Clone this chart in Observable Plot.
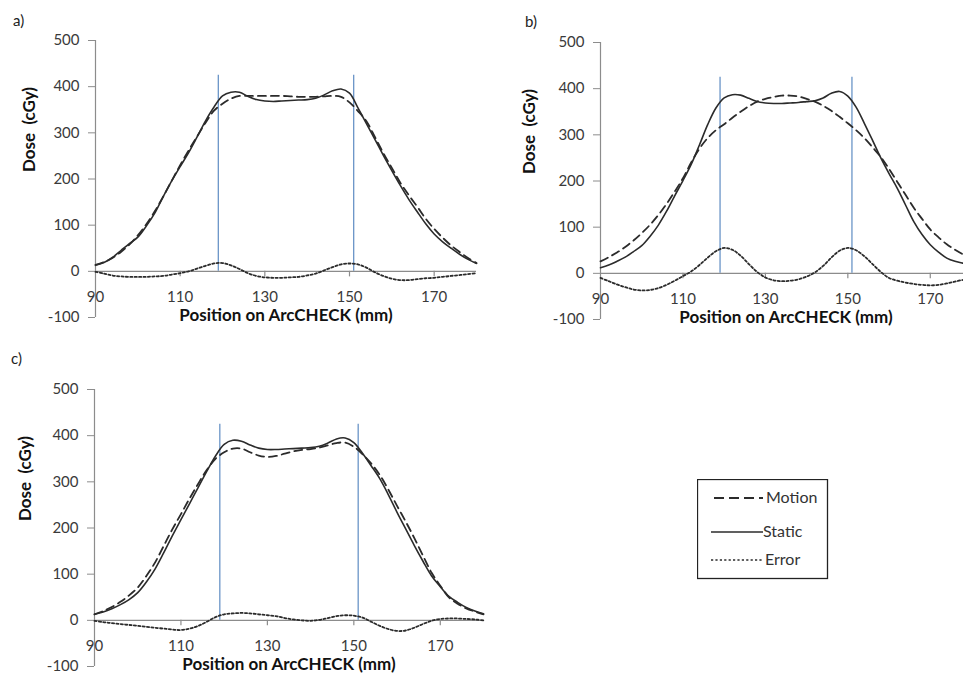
<!DOCTYPE html>
<html>
<head>
<meta charset="utf-8">
<script src="https://cdn.jsdelivr.net/npm/d3@7"></script>
<script src="https://cdn.jsdelivr.net/npm/@observablehq/plot@0.6"></script>
<style>
  html, body { margin: 0; padding: 0; background: #fff; overflow: hidden; width: 963px; height: 677px; }
  body { position: relative; font-family: Lato, "Open Sans", sans-serif; }
  .panel { position: absolute; overflow: visible; }
  .panel svg { max-width: none !important; }
  .plabel { position: absolute; font-size: 15px; color: #222; line-height: 17px; }
</style>
</head>
<body>
<div id="root"></div>
<script>
// Position on ArcCHECK (mm)
const positionMm = [90,92,94,96,98,100,102,104,106,108,110,112,114,116,118,120,122,124,126,128,130,132,134,136,138,140,142,144,146,148,150,152,154,156,158,160,162,164,166,168,170,172,174,176,178,180];

// Panel a)
const aMotion = [14,20,29,42,58,78,102,130,162,196,230,262,292,322,348,363,374,380,380,380,380,380,380,379,378,378,378,379,380,378,366,347,325,291,256,224,192,165,140,114,92,73,56,42,29,18];
const aStatic = [13,19,30,45,60,74,98,126,162,196,227,257,291,326,356,380,388,388,379,372,369,368,369,370,371,372,375,382,391,395,386,354,320,286,251,218,186,156,129,103,81,64,50,37,26,17];
const aError  = [-1,-5,-9,-11,-12,-12,-12,-11,-10,-7,-4,0,6,12,17,18,13,5,-4,-10,-13,-14,-14,-13,-12,-9,-5,2,9,15,17,15,8,-2,-10,-16,-19,-19,-17,-15,-14,-12,-10,-8,-6,-4];

// Panel b)
const bMotion = [26,35,45,57,71,87,105,126,150,177,206,240,270,293,310,323,337,350,362,372,378,382,385,385,383,378,372,363,352,339,325,310,293,273,252,226,198,170,142,118,95,78,63,51,41,33];
const bStatic = [12,18,26,35,47,60,80,104,134,168,201,236,278,322,358,380,387,386,379,372,369,368,368,369,370,372,374,380,390,394,384,360,325,288,250,216,184,148,112,84,62,46,33,26,22,19];
const bError  = [-10,-17,-24,-30,-35,-37,-36,-32,-25,-16,-6,4,18,34,48,55,51,38,20,3,-9,-15,-17,-16,-13,-7,2,16,34,49,55,50,37,20,3,-10,-16,-20,-23,-25,-26,-25,-22,-18,-14,-11];

// Panel c)
const cMotion = [13,20,29,40,54,71,96,125,161,197,230,264,296,326,350,364,372,372,364,357,354,356,361,366,369,371,374,379,384,385,376,360,340,315,283,248,214,178,140,103,75,50,36,26,19,13];
const cStatic = [13,18,25,34,45,60,83,111,146,183,218,253,288,323,356,381,390,388,380,373,370,370,371,372,373,374,377,384,393,395,385,362,335,307,272,234,198,162,128,96,73,52,39,28,20,14];
const cError  = [-1,-4,-6,-8,-10,-12,-14,-16,-18,-20,-21,-18,-12,-3,7,13,15,16,15,13,11,9,5,2,0,-1,1,5,9,11,10,6,-3,-12,-19,-23,-22,-16,-8,-1,3,4,4,3,2,0];

// Field edges (vertical markers), ticks, labels
const fieldEdges = [119, 151];
const xTicks = [90, 110, 130, 150, 170];
const yTicks = [-100, 0, 100, 200, 300, 400, 500];
const xTitle = "Position on ArcCHECK (mm)";
const yTitle = "Dose\u00a0\u00a0(cGy)";
const panelNames = ["a)", "b)", "c)"];
const seriesNames = ["Motion", "Static", "Error"];

const root = document.getElementById("root");

function makePanel(motion, stat, error, cfg) {
  const rows = positionMm.map((x, i) => ({x, motion: motion[i], stat: stat[i], error: error[i]}));
  const axisGrey = "#8c8c8c";
  const ink = "#2b2b2b";
  const chart = Plot.plot({
    width: cfg.width,
    height: cfg.height,
    marginLeft: cfg.mL,
    marginRight: cfg.mR,
    marginTop: cfg.mT,
    marginBottom: cfg.mB,
    style: {fontFamily: "Lato, 'Open Sans', sans-serif", fontSize: "15px", background: "transparent", overflow: "visible", maxWidth: "none"},
    x: {domain: [90, 180], axis: null},
    y: {domain: [-100, 500]},
    marks: [
      Plot.ruleY([0], {stroke: axisGrey, strokeWidth: 1.2}),
      Plot.ruleX([90], {y1: -100, y2: 500, stroke: axisGrey, strokeWidth: 1.2}),
      Plot.ruleX(xTicks.filter(t => t > 90), {y1: 0, y2: -12, stroke: axisGrey, strokeWidth: 1.2}),
      Plot.text(xTicks, {x: d => d, y: 0, dy: 26, text: d => String(d), fontSize: 15, fill: "#3a3a3a"}),
      Plot.axisY(yTicks, {tickSize: 7, tickPadding: 9, stroke: axisGrey, fill: "#3a3a3a", fontSize: 15, label: null, tickFormat: d => String(d)}),
      Plot.ruleX(fieldEdges, {y1: 0, y2: 425, stroke: "#4f81bd", strokeWidth: 1.1}),
      Plot.line(rows, {x: "x", y: "error", curve: "catmull-rom", stroke: ink, strokeWidth: 1.8, strokeDasharray: "2.2,2.2"}),
      Plot.line(rows, {x: "x", y: "motion", curve: "catmull-rom", stroke: ink, strokeWidth: 1.8, strokeDasharray: "8,5"}),
      Plot.line(rows, {x: "x", y: "stat", curve: "catmull-rom", stroke: ink, strokeWidth: 1.6}),
      Plot.text([xTitle], {frameAnchor: "bottom", dy: 3, fontWeight: "bold", fontSize: 17, fill: "#111"}),
      Plot.text([yTitle], {frameAnchor: "left", dx: cfg.yDx, dy: -7, rotate: -90, fontWeight: "bold", fontSize: 17, fill: "#111"})
    ]
  });
  const wrap = document.createElement("div");
  wrap.className = "panel";
  wrap.style.left = cfg.left + "px";
  wrap.style.top = cfg.top + "px";
  wrap.style.width = cfg.width + "px";
  wrap.style.height = cfg.height + "px";
  wrap.appendChild(chart);
  root.appendChild(wrap);
  const lab = document.createElement("div");
  lab.className = "plabel";
  lab.textContent = cfg.name;
  lab.style.left = cfg.labX + "px";
  lab.style.top = cfg.labY + "px";
  root.appendChild(lab);
}

makePanel(aMotion, aStatic, aError, {name: panelNames[0], left: 0, top: 0, width: 490, height: 340, mL: 95, mR: 14, mT: 40, mB: 23, yDx: -66, labX: 13, labY: 12});
makePanel(bMotion, bStatic, bError, {name: panelNames[1], left: 490, top: 0, width: 500, height: 340, mL: 110, mR: 19, mT: 42, mB: 21, yDx: -71, labX: 525, labY: 13});
makePanel(cMotion, cStatic, cError, {name: panelNames[2], left: 0, top: 330, width: 490, height: 347, mL: 94, mR: 7, mT: 59, mB: 11, yDx: -69, labX: 11, labY: 350});

// Legend
const ns = "http://www.w3.org/2000/svg";
const leg = document.createElementNS(ns, "svg");
leg.setAttribute("width", 132);
leg.setAttribute("height", 101);
leg.style.position = "absolute";
leg.style.left = "697px";
leg.style.top = "479px";
const box = document.createElementNS(ns, "rect");
box.setAttribute("x", 0.5); box.setAttribute("y", 0.5);
box.setAttribute("width", 130); box.setAttribute("height", 99);
box.setAttribute("fill", "#fff"); box.setAttribute("stroke", "#222"); box.setAttribute("stroke-width", 1.3);
leg.appendChild(box);
const legRows = [
  {name: seriesNames[0], y: 19, x1: 17, x2: 66, dash: "10,5", w: 1.8, tx: 69},
  {name: seriesNames[1], y: 53, x1: 14, x2: 66, dash: null, w: 1.6, tx: 66},
  {name: seriesNames[2], y: 81, x1: 14, x2: 66, dash: "2.2,2.2", w: 1.6, tx: 68}
];
legRows.forEach(r => {
  const ln = document.createElementNS(ns, "line");
  ln.setAttribute("x1", r.x1); ln.setAttribute("x2", r.x2);
  ln.setAttribute("y1", r.y); ln.setAttribute("y2", r.y);
  ln.setAttribute("stroke", "#2b2b2b"); ln.setAttribute("stroke-width", r.w);
  if (r.dash) ln.setAttribute("stroke-dasharray", r.dash);
  leg.appendChild(ln);
  const t = document.createElementNS(ns, "text");
  t.setAttribute("x", r.tx); t.setAttribute("y", r.y + 5);
  t.setAttribute("font-family", "Lato, 'Open Sans', sans-serif");
  t.setAttribute("font-size", 16);
  t.setAttribute("fill", "#333");
  t.textContent = r.name;
  leg.appendChild(t);
});
root.appendChild(leg);
</script>
</body>
</html>
